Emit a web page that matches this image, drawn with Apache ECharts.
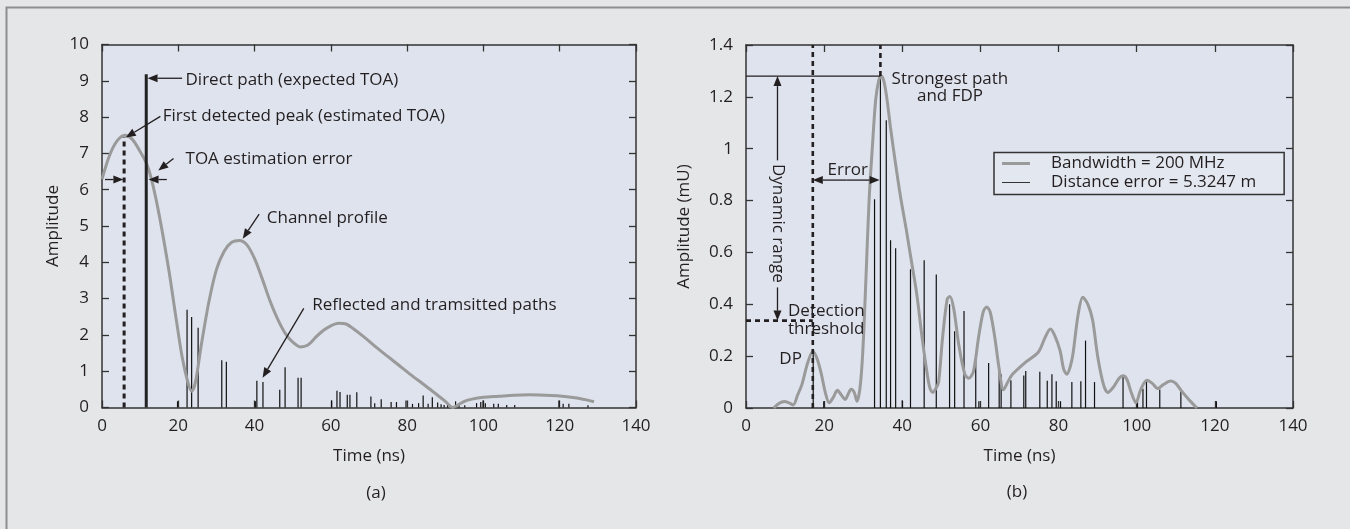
<!DOCTYPE html>
<html>
<head>
<meta charset="utf-8">
<script src="https://cdn.jsdelivr.net/npm/echarts@6/dist/echarts.min.js"></script>
<style>
  html, body { margin: 0; padding: 0; background: #e5e6e8; }
  #main { width: 1350px; height: 529px; }
</style>
</head>
<body>
<div id="main"></div>
<script>
// ---- data ----
// (a) channel profile (time ns, amplitude)
const profileA = [[0,6.29],[2,6.95],[4,7.35],[6,7.5],[8,7.38],[10,7.05],[11.6,6.74],[13,6.28],[15,5.3],[17.5,3.8],
  [19.5,2.4],[21,1.4],[22.5,0.7],[23.5,0.45],[24.5,0.7],[26,1.7],[28,2.9],[30,3.8],[32,4.3],[34,4.55],[36,4.6],
  [38,4.48],[40,4.1],[42,3.55],[44,2.95],[46,2.45],[48,2.05],[50,1.8],[52,1.67],[54,1.72],[56,1.93],[58,2.12],
  [60,2.25],[62,2.32],[64,2.3],[66,2.16],[68,2.0],[70,1.83],[72,1.65],[75,1.4],[78,1.15],[81,0.9],[84,0.66],
  [87,0.42],[90,0.17],[92,0.0],[93.5,0.08],[95,0.17],[97,0.23],[100,0.28],[104,0.31],[108,0.34],[112,0.35],
  [116,0.34],[120,0.32],[124,0.27],[127,0.21],[129,0.16]];
// (a) reflected and transmitted paths
const pathsA = [[19.8,0.17],[22.3,2.69],[23.5,2.49],[25.2,2.2],[31.4,1.3],[32.6,1.26],[40.2,0.17],[40.6,0.74],
  [42.2,0.7],[46.6,0.49],[48,1.11],[51.4,0.82],[52.2,0.82],[60.2,0.19],[61.6,0.46],[62.4,0.43],[64.3,0.35],
  [65,0.35],[66.8,0.42],[70.5,0.3],[71.5,0.12],[73.2,0.23],[75.8,0.15],[77.2,0.15],[79.7,0.19],[81.4,0.1],
  [83,0.12],[84.2,0.33],[85.5,0.1],[86.6,0.28],[88,0.14],[88.9,0.09],[89.7,0.07],[90.6,0.12],[92.7,0.17],
  [93.6,0.12],[95.1,0.06],[98.2,0.12],[99.3,0.15],[99.9,0.19],[100.5,0.12],[102.7,0.1],[103.9,0.1],[106.1,0.07],
  [108.2,0.07],[119.8,0.19],[120.9,0.1],[122.4,0.1],[127.4,0.06]];
const directPathA = [[11.6, 9.18]];
const firstPeakA = [5.8, 7.45];

// (b) channel profile, bandwidth 200 MHz (time ns, amplitude mU)
const profileB = [[7.1,0],[8.5,0.018],[9.8,0.025],[11,0.02],[12.1,0.012],[13.2,0.05],[14.3,0.09],[15.7,0.17],
  [17.1,0.218],[18.2,0.19],[19.3,0.13],[20.3,0.06],[21.3,0.02],[22.3,0.04],[23.4,0.068],[24.4,0.05],[25.4,0.033],
  [26.2,0.055],[26.9,0.072],[27.7,0.06],[28.4,0.026],[29.2,0.08],[29.9,0.22],[30.7,0.5],[31.5,0.8],[32.4,1.02],
  [33.2,1.19],[34,1.265],[34.6,1.28],[35.3,1.26],[36,1.2],[37,1.08],[38.2,0.95],[39.5,0.82],[41,0.69],[42.3,0.57],
  [43.7,0.44],[45,0.28],[46,0.17],[47,0.08],[47.8,0.06],[48.6,0.075],[49.3,0.1],[50.3,0.27],[51.5,0.42],[52.2,0.43],
  [53.2,0.38],[54.5,0.24],[56,0.13],[57,0.115],[58.2,0.14],[59.5,0.27],[60.7,0.37],[61.6,0.39],[62.5,0.37],
  [63.7,0.27],[64.8,0.15],[65.9,0.07],[67,0.1],[68.2,0.13],[71.5,0.176],[74.8,0.215],[76.5,0.27],[77.9,0.305],
  [79,0.28],[80.4,0.22],[81.3,0.15],[82.1,0.13],[83,0.16],[83.7,0.21],[85,0.36],[86.2,0.427],[87.5,0.4],
  [88.7,0.34],[90,0.2],[91.5,0.09],[92.6,0.06],[94,0.08],[95.5,0.115],[96.5,0.124],[97.5,0.11],[98.6,0.06],
  [99.8,0.02],[101,0.07],[102.6,0.107],[104,0.095],[105.4,0.075],[106.8,0.09],[108.7,0.104],[110,0.095],
  [111.5,0.065],[113.5,0.03],[115.4,0]];
// (b) multipath components
const pathsB = [[17.2,0.219],[19.9,0.026],[32.9,0.805],[34.4,1.28],[35.9,1.11],[37.0,0.647],[38.3,0.616],
  [40.0,0.03],[42.1,0.535],[45.6,0.57],[48.7,0.515],[52.1,0.4],[53.4,0.296],[55.8,0.374],[58.8,0.193],[59.6,0.026],
  [62.1,0.174],[64.8,0.16],[65.3,0.13],[67.8,0.107],[71.1,0.125],[71.6,0.143],[75.2,0.14],[77.1,0.105],[78.3,0.13],
  [79.4,0.103],[80.5,0.026],[83.4,0.1],[85.7,0.103],[86.9,0.26],[89.2,0.1],[96.5,0.127],[100.2,0.026],
  [101.6,0.074],[102.5,0.103],[105.9,0.071],[111.3,0.064],[120.4,0.026]];
const dpB = [17.1, 0.219];
const strongestB = [34.4, 1.28];
const thresholdB = 0.337;

const legendNames = ['Bandwidth = 200 MHz', 'Distance error = 5.3247 m'];

const INK = '#231f20';
const FONT = '"Open Sans", sans-serif';
const CURVE = '#9a9a9a';

function stems(width, color) {
  return function (params, api) {
    const a = api.coord([api.value(0), 0]);
    const b = api.coord([api.value(0), api.value(1)]);
    return { type: 'line', shape: { x1: a[0], y1: a[1], x2: b[0], y2: b[1] },
      style: { stroke: color, lineWidth: width } };
  };
}

function xAx(grid, pos) {
  return {
    type: 'value', gridIndex: grid, position: pos, min: 0, max: 140, interval: 20,
    name: pos === 'bottom' ? 'Time (ns)' : '', nameLocation: 'middle', nameGap: 40,
    nameTextStyle: { fontSize: 17, fontFamily: FONT, color: INK },
    axisLine: { show: true, onZero: false, lineStyle: { color: '#333', width: 1.5 } },
    axisTick: { show: true, inside: true, length: 7, lineStyle: { color: '#333', width: 1.3 } },
    axisLabel: { show: pos === 'bottom', fontSize: 17, fontFamily: FONT, color: INK, margin: 10 },
    splitLine: { show: false }
  };
}
function yAx(grid, pos, max, step, name, gap) {
  return {
    type: 'value', gridIndex: grid, position: pos, min: 0, max: max, interval: step,
    name: pos === 'left' ? name : '', nameLocation: 'middle', nameGap: gap, nameRotate: 90,
    nameTextStyle: { fontSize: 17, fontFamily: FONT, color: INK },
    axisLine: { show: true, onZero: false, lineStyle: { color: '#333', width: 1.5 } },
    axisTick: { show: true, inside: true, length: 7, lineStyle: { color: '#333', width: 1.3 } },
    axisLabel: { show: pos === 'left', fontSize: 17, fontFamily: FONT, color: INK, margin: 13 },
    splitLine: { show: false }
  };
}

const chart = echarts.init(document.getElementById('main'));
chart.setOption({
  backgroundColor: '#e5e6e8',
  animation: false,
  textStyle: { fontFamily: FONT, color: INK },
  grid: [
    { left: 102, top: 44.5, width: 534, height: 363, show: true, backgroundColor: '#dee3ee', borderWidth: 0 },
    { left: 746, top: 45, width: 547, height: 363, show: true, backgroundColor: '#dee3ee', borderWidth: 0 }
  ],
  xAxis: [xAx(0, 'bottom'), xAx(0, 'top'), xAx(1, 'bottom'), xAx(1, 'top')],
  yAxis: [yAx(0, 'left', 10, 1, 'Amplitude', 40), yAx(0, 'right', 10, 1),
          yAx(1, 'left', 1.4, 0.2, 'Amplitude (mU)', 53), yAx(1, 'right', 1.4, 0.2)],
  legend: {
    data: [
      { name: legendNames[0], icon: 'rect', itemStyle: { color: CURVE } },
      { name: legendNames[1], icon: 'path://M0,0h0.05v0.05h-0.05zM0,1h28v1h-28zM0,2.95h0.05v0.05h-0.05z', itemStyle: { color: '#333' } }
    ],
    orient: 'vertical', left: 994, top: 152.5, selectedMode: false,
    padding: [2, 28, 3, 8], itemWidth: 28, itemHeight: 3, itemGap: 1,
    backgroundColor: '#e3e7f0', borderColor: '#333', borderWidth: 1.5, borderRadius: 0,
    textStyle: { fontSize: 17, fontFamily: FONT, color: INK, lineHeight: 18, padding: [0, 0, 0, 16] }
  },
  series: [
    { name: 'Channel profile', type: 'line', xAxisIndex: 0, yAxisIndex: 0, data: profileA, smooth: 0.3,
      showSymbol: false, color: CURVE, lineStyle: { color: CURVE, width: 3 }, z: 3 },
    { name: 'Reflected and tramsitted paths', type: 'custom', xAxisIndex: 0, yAxisIndex: 0, data: pathsA,
      renderItem: stems(1.2, '#111'), z: 2 },
    { name: 'Direct path', type: 'custom', xAxisIndex: 0, yAxisIndex: 0, data: directPathA,
      renderItem: stems(3, '#222'), z: 4 },
    { name: legendNames[0], type: 'line', xAxisIndex: 2, yAxisIndex: 2, data: profileB, smooth: 0.3,
      showSymbol: false, color: CURVE, itemStyle: { color: CURVE }, lineStyle: { color: CURVE, width: 3 }, z: 3 },
    { name: legendNames[1], type: 'custom', xAxisIndex: 2, yAxisIndex: 2, data: pathsB,
      itemStyle: { color: '#333' }, renderItem: stems(1.2, '#111'), z: 2 }
  ]
});

// ---- annotations, placed through the axes ----
const pa = v => chart.convertToPixel({ seriesIndex: 0 }, v);
const pb = v => chart.convertToPixel({ seriesIndex: 3 }, v);

function arrow(p, q, w) {
  const dx = q[0] - p[0], dy = q[1] - p[1], L = Math.hypot(dx, dy), ux = dx / L, uy = dy / L;
  const hl = 10, hw = 4;
  const bx = q[0] - ux * hl, by = q[1] - uy * hl;
  return [
    { type: 'line', z: 100, shape: { x1: p[0], y1: p[1], x2: bx, y2: by }, style: { stroke: INK, lineWidth: w || 1.3 } },
    { type: 'polygon', z: 100, shape: { points: [q, [bx - uy * hw, by + ux * hw], [bx + uy * hw, by - ux * hw]] },
      style: { fill: INK } }
  ];
}
function seg(p, q, w, dash) {
  return { type: 'line', z: 90, shape: { x1: p[0], y1: p[1], x2: q[0], y2: q[1] },
    style: { stroke: INK, lineWidth: w, lineDash: dash || null } };
}
function label(p, text, align, rot) {
  return { type: 'text', z: 100, x: p[0], y: p[1], rotation: rot || 0,
    style: { text: text, fontSize: 17, fontFamily: FONT, fill: INK, align: align || 'left', verticalAlign: 'middle' } };
}

const g = [];
// outer frame
g.push({ type: 'rect', z: 1, shape: { x: 6.5, y: 7.5, width: 1400, height: 600 },
  style: { fill: 'none', stroke: '#8e8e8e', lineWidth: 2 } });

// (a)
g.push(seg(pa([firstPeakA[0], 0]), pa(firstPeakA), 3, [5, 4]));
g.push(label(pa([21.9, 9.03]), 'Direct path (expected TOA)'));
g.push(...arrow(pa([21.0, 9.07]), pa([11.95, 9.07])));
g.push(label(pa([15.9, 8.02]), 'First detected peak (estimated TOA)'));
g.push(...arrow(pa([15.3, 8.02]), pa([6.24, 7.44])));
g.push(label(pa([21.9, 6.84]), 'TOA estimation error'));
g.push(...arrow(pa([18.75, 6.86]), pa([14.76, 6.53])));
g.push(...arrow(pa([0.79, 6.28]), pa([5.6, 6.28])));
g.push(...arrow(pa([17.0, 6.28]), pa([12.2, 6.28])));
g.push(label(pa([43.2, 5.21]), 'Channel profile'));
g.push(...arrow(pa([41.2, 5.33]), pa([36.9, 4.65])));
g.push(label(pa([55.1, 2.82]), 'Reflected and tramsitted paths'));
g.push(...arrow(pa([52.9, 2.73]), pa([42.1, 0.82])));

// (b)
g.push(seg(pb([dpB[0], 0]), pb([dpB[0], 1.4]), 2.6, [5, 4]));
g.push(seg(pb([strongestB[0], strongestB[1]]), pb([strongestB[0], 1.4]), 2.6, [5, 4]));
g.push(seg(pb([0, strongestB[1]]), pb(strongestB), 1.3));
g.push(seg(pb([0, thresholdB]), pb([dpB[0], thresholdB]), 2.6, [5, 4]));
g.push(...arrow(pb([8.06, 0.955]), pb([8.06, strongestB[1]])));
g.push(...arrow(pb([8.06, 0.465]), pb([8.06, thresholdB])));
g.push(label(pb([8.06, 0.712]), 'Dynamic range', 'center', -Math.PI / 2));
g.push(...arrow(pb([25.7, 0.879]), pb([dpB[0], 0.879])));
g.push(...arrow(pb([25.7, 0.879]), pb([strongestB[0] - 0.2, 0.879])));
g.push(label(pb([26.05, 0.918]), 'Error', 'center'));
g.push(label(pb([52.2, 1.27]), 'Strongest path', 'center'));
g.push(label(pb([52.2, 1.202]), 'and FDP', 'center'));
g.push(label(pb([10.75, 0.373]), 'Detection'));
g.push(label(pb([10.75, 0.303]), 'threshold'));
g.push(label(pb([14.3, 0.19]), 'DP', 'right'));

// panel captions
g.push(label([376, 493.5], '(a)', 'center'));
g.push(label([1017, 492.5], '(b)', 'center'));

chart.setOption({ graphic: g });
</script>
</body>
</html>
